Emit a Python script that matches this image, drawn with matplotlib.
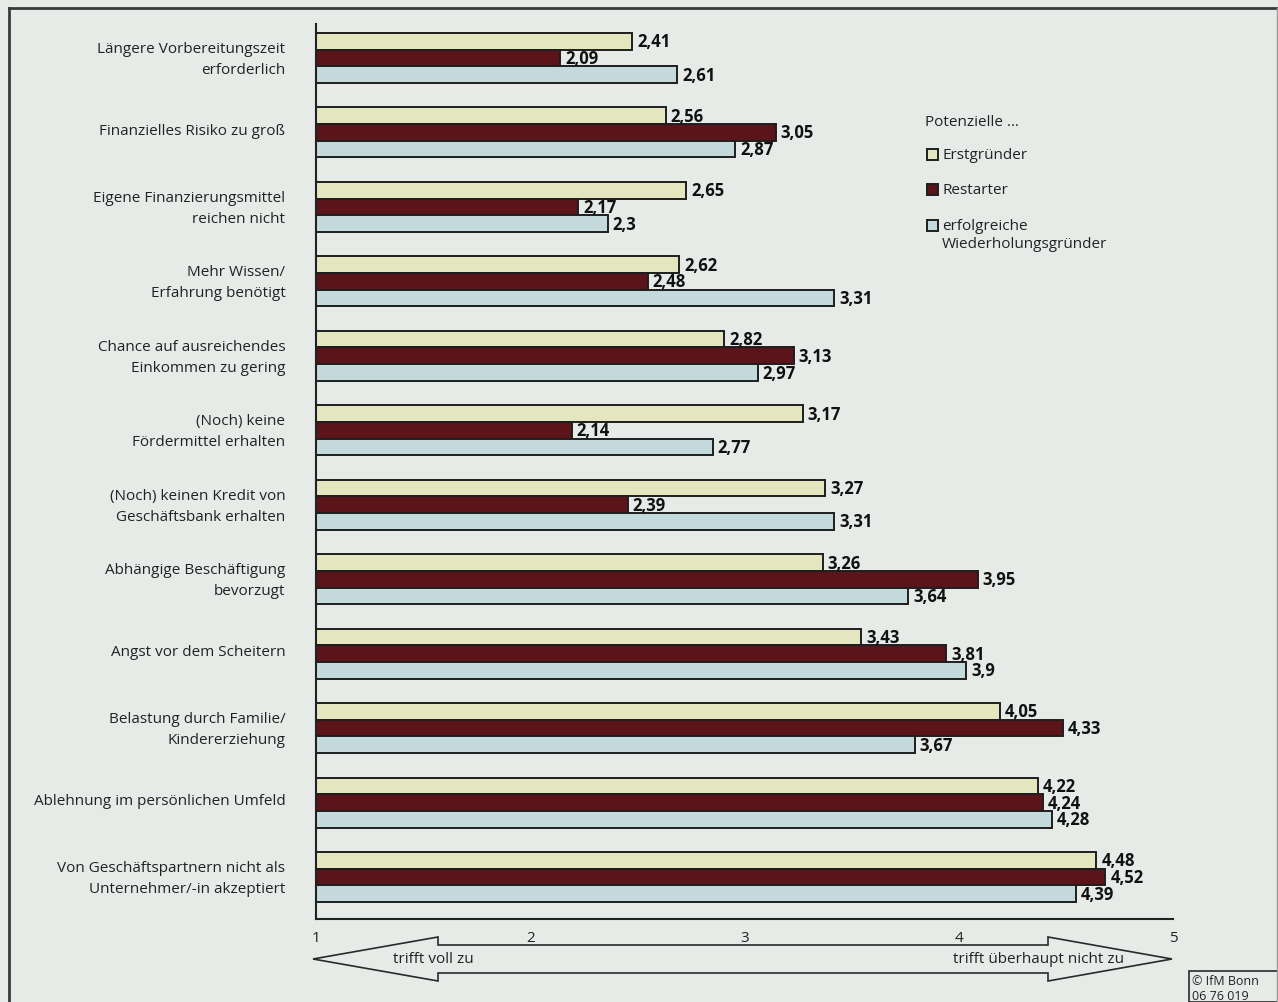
import numpy as np
import matplotlib.pyplot as plt
from matplotlib.patches import Polygon, Rectangle
from matplotlib.lines import Line2D
from matplotlib.transforms import ScaledTranslation

plt.rcParams['font.family'] = ['Open Sans', 'DejaVu Sans']

# Daten
categories = [
    'Längere Vorbereitungszeit\nerforderlich',
    'Finanzielles Risiko zu groß',
    'Eigene Finanzierungsmittel\nreichen nicht',
    'Mehr Wissen/\nErfahrung benötigt',
    'Chance auf ausreichendes\nEinkommen zu gering',
    '(Noch) keine\nFördermittel erhalten',
    '(Noch) keinen Kredit von\nGeschäftsbank erhalten',
    'Abhängige Beschäftigung\nbevorzugt',
    'Angst vor dem Scheitern',
    'Belastung durch Familie/\nKindererziehung',
    'Ablehnung im persönlichen Umfeld',
    'Von Geschäftspartnern nicht als\nUnternehmer/-in akzeptiert',
]
erstgruender = [2.41, 2.56, 2.65, 2.62, 2.82, 3.17, 3.27, 3.26, 3.43, 4.05, 4.22, 4.48]
restarter = [2.09, 3.05, 2.17, 2.48, 3.13, 2.14, 2.39, 3.95, 3.81, 4.33, 4.24, 4.52]
wiederholung = [2.61, 2.87, 2.3, 3.31, 2.97, 2.77, 3.31, 3.64, 3.9, 3.67, 4.28, 4.39]
series_names = ['Erstgründer', 'Restarter', 'erfolgreiche\nWiederholungsgründer']
tick_labels = ['1', '2', '3', '4', '5']

bg = '#e6ebe8'
colors = ['#e3e6be', '#5a141a', '#c4d9dc']
W, H = 1278, 1003
fs = 11

def fx(px):
    return px / W

def fy(py):
    return 1 - py / H

fig = plt.figure(figsize=(W / 100, H / 100), dpi=100, facecolor=bg)
ax = fig.add_axes([316 / W, 83 / H, (1173 - 316) / W, (920 - 25) / H])
ax.set_facecolor(bg)

y = np.arange(len(categories))
h = 0.224
for k, (vals, col) in enumerate(zip([erstgruender, restarter, wiederholung], colors)):
    pos = y + (k - 1) * h
    ax.barh(pos, np.array(vals) - 1, left=1, height=h, color=col,
            edgecolor='#1e1e1e', linewidth=1.4)
    for p, v in zip(pos, vals):
        ax.text(v + 0.022, p, f'{v:g}'.replace('.', ','), va='center', ha='left',
                fontsize=12, fontweight='bold', color='#111111')

xmax = 1 + (1173 - 315.5) / 224.4
ax.set_xlim(1, xmax)
ax.set_ylim(11.564, -0.457)
ax.set_yticks(y)
ax.set_yticklabels(categories, fontsize=fs, color='#222222', linespacing=1.55)
ax.tick_params(axis='y', length=0, pad=22)
for lbl in ax.get_yticklabels():
    lbl.set_transform(lbl.get_transform() + ScaledTranslation(0, 3 / 72, fig.dpi_scale_trans))
ax.set_xticks(np.linspace(1, xmax, 5))
ax.set_xticklabels(tick_labels, fontsize=fs, color='#222222')
ax.tick_params(axis='x', length=0, pad=8)
for s in ['top', 'right']:
    ax.spines[s].set_visible(False)
for s in ['left', 'bottom']:
    ax.spines[s].set_linewidth(1.5)
    ax.spines[s].set_color('#222222')

# Legende
fig.text(fx(925), fy(123), 'Potenzielle …', fontsize=fs, va='center', ha='left', color='#222222')
leg_y = [155, 190, 226]
for name, col, ly in zip(series_names, colors, leg_y):
    fig.patches.append(Rectangle((fx(927), fy(ly + 5.5)), 11 / W, 11 / H, transform=fig.transFigure,
                                 facecolor=col, edgecolor='#1e1e1e', linewidth=1.4))
    fig.text(fx(942), fy(ly - 7), name, fontsize=fs, va='top', ha='left', color='#222222',
             linespacing=1.3)

# Pfeil
arrow_pts = [(313, 960), (438, 938), (438, 946), (1048, 946), (1048, 938), (1172, 960),
             (1048, 982), (1048, 974), (438, 974), (438, 982)]
fig.patches.append(Polygon([(fx(a), fy(b)) for a, b in arrow_pts], closed=True,
                           transform=fig.transFigure, facecolor=bg, edgecolor='#2a2a2a',
                           linewidth=1.2))
fig.text(fx(393), fy(960), 'trifft voll zu', fontsize=fs, va='center', ha='left', color='#222222')
fig.text(fx(1124), fy(960), 'trifft überhaupt nicht zu', fontsize=fs, va='center', ha='right',
         color='#222222')

# Rahmen
fig.lines.append(Line2D([fx(9), fx(9)], [fy(9), 0], transform=fig.transFigure,
                        color='#3a3a3a', linewidth=2))
fig.lines.append(Line2D([fx(9), 1], [fy(9), fy(9)], transform=fig.transFigure,
                        color='#3a3a3a', linewidth=2))
fig.lines.append(Line2D([fx(1277), fx(1277)], [fy(9), 0], transform=fig.transFigure,
                        color='#9a9a9a', linewidth=1))

# Copyright
fig.patches.append(Rectangle((fx(1189), 0), 1 - fx(1189), fy(972), transform=fig.transFigure,
                             facecolor=bg, edgecolor='#2a2a2a', linewidth=1.2))
fig.text(fx(1192), fy(975), '© IfM Bonn\n06 76 019', fontsize=9, va='top', ha='left',
         color='#222222', linespacing=1.2)

fig.savefig('out.png', dpi=100, facecolor=bg)
